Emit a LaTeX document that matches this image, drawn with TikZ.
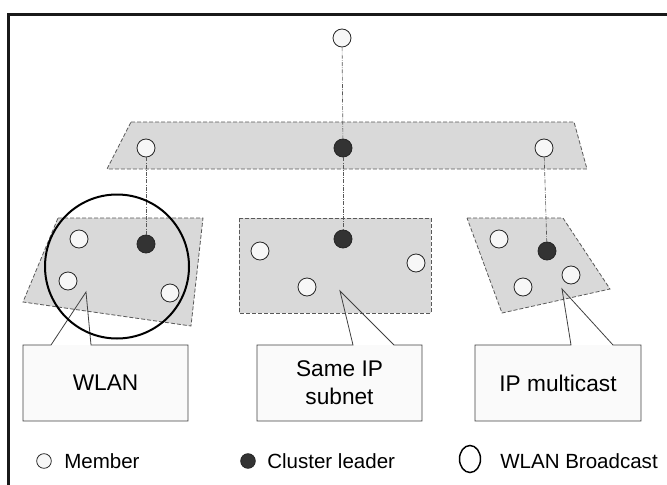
\documentclass[tikz,border=0pt]{standalone}
\usepackage{fontspec}
\setmainfont{Liberation Sans}
\usetikzlibrary{shapes.geometric}

\definecolor{zonefill}{HTML}{D9D9D9}
\definecolor{memberfill}{HTML}{F7F7F7}
\definecolor{leaderfill}{HTML}{333333}
\definecolor{boxfill}{HTML}{FAFAFA}

\begin{document}
\begin{tikzpicture}[x=0.75pt,y=-0.75pt,
    member/.style={circle,draw=black!85,fill=memberfill,line width=0.6pt,minimum size=13.5pt,inner sep=0pt},
    leader/.style={member,fill=leaderfill},
    zone/.style={fill=zonefill,draw=black!65,line width=0.6pt,dash pattern=on 3pt off 1.5pt},
    link/.style={draw=black!65,line width=0.5pt,densely dash dot},
    callout/.style={draw=black!75,line width=0.6pt},
    calltext/.style={font=\fontsize{17}{21}\selectfont,align=center},
    keytext/.style={font=\fontsize{15.4}{18}\selectfont,anchor=west,inner sep=0pt}]

    \useasboundingbox (0,0) rectangle (667,485);
    \clip (0,0) rectangle (667,485);
    \draw[line width=2.25pt,black!90] (8.5,520) -- (8.5,14.5) -- (700,14.5);

    % backbone and the three clusters
    \path[zone] (131,122) -- (574,122) -- (587,169) -- (107,169) -- cycle;
    \path[zone] (58,218) -- (203,218) -- (191,326) -- (23,302) -- cycle;
    \path[zone] (239,218) rectangle (431,313);
    \path[zone] (467,218) -- (563,218) -- (610,289) -- (502,313) -- cycle;

    \foreach \l/\a/\b/\tx/\ty/\r in {23/51/91/86/292/188, 257/353/394/340/291/422, 475/571/613/562/289/641}
    {
      \fill[boxfill] (\l,345) rectangle (\r,421);
      \draw[callout] (\l,345) -- (\a,345) -- (\tx,\ty) -- (\b,345) -- (\r,345) -- (\r,421) -- (\l,421) -- cycle;
    }
    \node[calltext] (wlan) at (105.5,383) {WLAN};
    \node[calltext] (subnet) at (339.5,383) {Same IP\\subnet};
    \node[calltext] (multicast) at (558,383) {IP multicast};

    \node[member] (top) at (342,38) {};
    \node[member] (bbL) at (146,148) {};
    \node[leader] (bbC) at (343,148) {};
    \node[member] (bbR) at (544,148) {};

    % WLAN cluster
    \node[leader] (wL) at (146,244) {};
    \node[member] (w1) at (79,239) {};
    \node[member] (w2) at (68,281) {};
    \node[member] (w3) at (170,293) {};
    % same subnet cluster
    \node[leader] (sL) at (343,239) {};
    \node[member] (s1) at (260,251) {};
    \node[member] (s2) at (307,287) {};
    \node[member] (s3) at (416,263) {};
    % multicast cluster
    \node[leader] (mL) at (547,251) {};
    \node[member] (m1) at (499,239) {};
    \node[member] (m2) at (523,287) {};
    \node[member] (m3) at (571,275) {};

    \draw[link] (top) -- (bbC);
    \draw[link] (bbL) -- (wL);
    \draw[link] (bbC) -- (sL);
    \draw[link] (bbR) -- (mL);

    \node[circle,draw=black,line width=1.5pt,minimum size=108pt,inner sep=0pt] (bcast) at (117,266.5) {};

    % legend
    \node[member,minimum size=11pt] (keyM) at (44,461) {};
    \node[keytext] (keyMtext) at (64,461) {Member};
    \node[leader,minimum size=11pt] (keyL) at (248,461) {};
    \node[keytext] (keyLtext) at (267,461) {Cluster leader};
    \node[ellipse,draw=black,line width=1.1pt,minimum width=15.75pt,minimum height=20.25pt,inner sep=0pt] (keyB) at (470,459) {};
    \node[keytext] (keyBtext) at (500,461) {WLAN Broadcast};
\end{tikzpicture}
\end{document}
